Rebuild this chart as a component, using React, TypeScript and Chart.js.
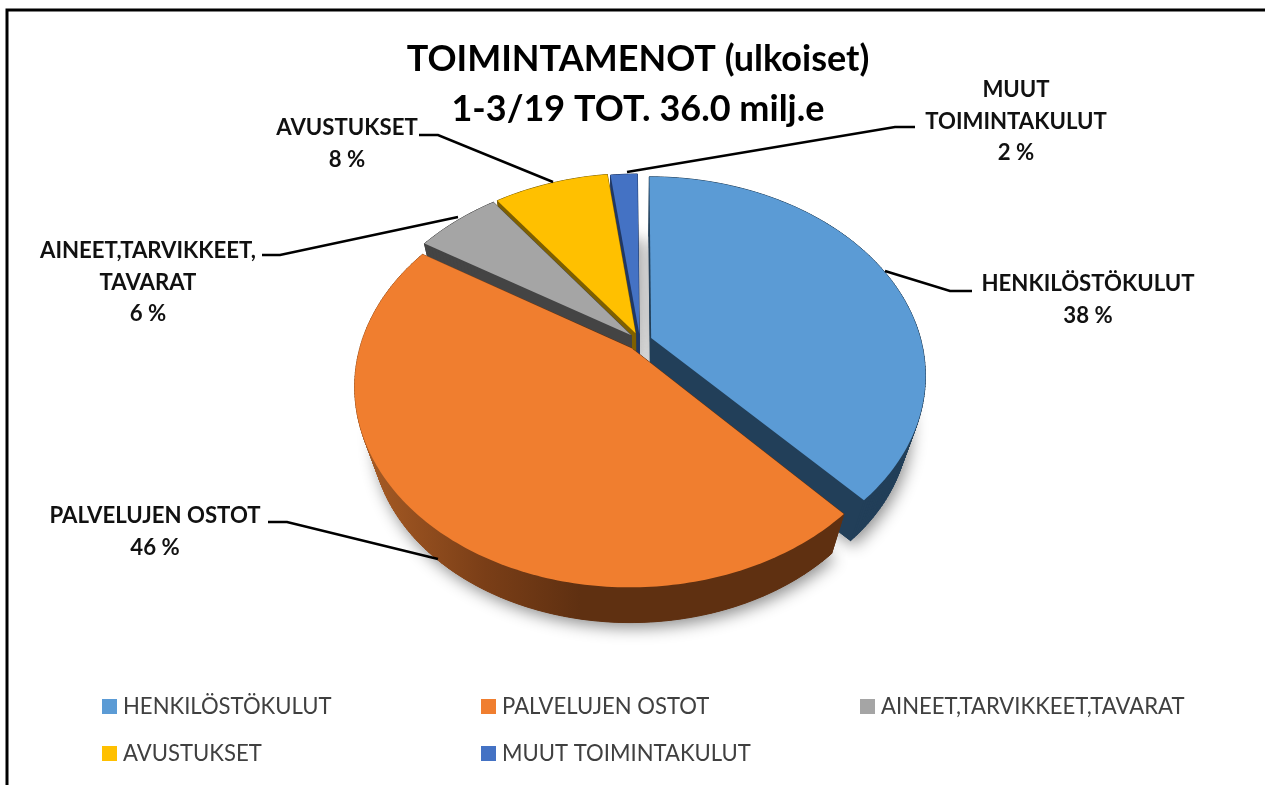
import React, { useEffect, useRef } from "react";
import { Chart, registerables } from "chart.js";

Chart.register(...registerables);

const categories = ["HENKILÖSTÖKULUT", "PALVELUJEN OSTOT", "AINEET,TARVIKKEET,TAVARAT", "AVUSTUKSET", "MUUT TOIMINTAKULUT"];
const shares = [38.2, 45.8, 6, 8.1, 1.9];
const sliceColors = ["#5B9BD5", "#F07E2F", "#A5A5A5", "#FFC000", "#4472C4"];
const wallColors = ["#223F59", "#5F3011", "#444444", "#7F6000", "#203864"];
const explode = [12, 13, 12, 12, 10];
const titleLines = ["TOIMINTAMENOT (ulkoiset)", "1-3/19 TOT. 36.0 milj.e"];
const calloutLines = [["HENKILÖSTÖKULUT"], ["PALVELUJEN OSTOT"], ["AINEET,TARVIKKEET,", "TAVARAT"], ["AVUSTUKSET"], ["MUUT", "TOIMINTAKULUT"]];
const calloutPos = [[1088, 284], [155, 516], [148, 251], [347, 128], [1016, 90]];
const calloutLeaders = [
  [[972, 291], [950, 291], [885, 271]],
  [[268, 522], [287, 522], [438, 559]],
  [[262, 255], [280, 255], [458, 217]],
  [[419, 135], [438, 135], [553, 182]],
  [[915, 127], [895, 127], [627, 172]],
];
const legendSlots = [[102, 699], [481, 699], [860, 699], [102, 746], [481, 746]];
const paintOrder = [4, 3, 2, 0, 1];

const FONT = "Lato, 'Open Sans', sans-serif";
const CX = 640, CY = 341, PERSP = 0.185, TILT = 0.711, FLOOR = 0.94, DEPTH = 50;

const pie3d = {
  id: "pie3d",
  beforeDraw(chart: any) {
    const { ctx } = chart;
    ctx.save();
    ctx.strokeStyle = "#000";
    ctx.lineWidth = 3;
    ctx.beginPath();
    ctx.moveTo(7, 785);
    ctx.lineTo(7, 10);
    ctx.lineTo(1265, 10);
    ctx.stroke();
    ctx.restore();
  },
  beforeDatasetsDraw(chart: any) {
    const { ctx } = chart;
    const arcs = chart.getDatasetMeta(0).data;
    const outline = (arc: any, i: number) => {
      const R = arc.outerRadius;
      const off = arc.options.offset ?? explode[i];
      const mid = (arc.startAngle + arc.endAngle) / 2;
      const ox = Math.cos(mid) * off, oy = Math.sin(mid) * off;
      const proj = (px: number, py: number) => {
        const s = 1 / (1 - (PERSP * py) / R);
        return [CX + px * s, CY + py * TILT * s];
      };
      const pts = [proj(ox, oy)];
      const n = Math.max(8, Math.ceil((arc.endAngle - arc.startAngle) * 60));
      for (let k = 0; k <= n; k++) {
        const a = arc.startAngle + ((arc.endAngle - arc.startAngle) * k) / n;
        pts.push(proj(ox + Math.cos(a) * R, oy + Math.sin(a) * R));
      }
      return pts;
    };
    const toFloor = (p: number[]) => [CX + (p[0] - CX) * FLOOR, CY + (p[1] - CY) * FLOOR + DEPTH];
    const poly = (pts: number[][]) => {
      ctx.beginPath();
      pts.forEach((p, j) => (j ? ctx.lineTo(p[0], p[1]) : ctx.moveTo(p[0], p[1])));
      ctx.closePath();
    };
    ctx.save();
    ctx.shadowColor = "rgba(0,0,0,0.45)";
    ctx.shadowBlur = 16;
    ctx.shadowOffsetX = 3;
    ctx.shadowOffsetY = 5;
    ctx.fillStyle = "#CFCFCF";
    arcs.forEach((arc: any, i: number) => {
      poly(outline(arc, i).map(toFloor));
      ctx.fill();
    });
    ctx.shadowColor = "transparent";
    ctx.shadowBlur = 0;
    ctx.shadowOffsetX = 0;
    ctx.shadowOffsetY = 0;
    ctx.lineJoin = "round";
    const orangeWall = ctx.createLinearGradient(370, 0, 580, 0);
    orangeWall.addColorStop(0, "#A55A24");
    orangeWall.addColorStop(0.55, "#7A3E17");
    orangeWall.addColorStop(1, wallColors[1]);
    paintOrder.forEach((i) => {
      const arc = arcs[i];
      const top = outline(arc, i);
      const low = top.map(toFloor);
      const wall = i === 1 ? orangeWall : wallColors[i];
      ctx.fillStyle = wall;
      ctx.strokeStyle = wall;
      ctx.lineWidth = 1;
      poly(low);
      ctx.fill();
      for (let k = 0; k < top.length; k++) {
        const m = (k + 1) % top.length;
        poly([top[k], top[m], low[m], low[k]]);
        ctx.fill();
        ctx.stroke();
      }
      ctx.fillStyle = arc.options.backgroundColor;
      poly(top);
      ctx.fill();
    });
    ctx.restore();
    return false;
  },
  afterDraw(chart: any) {
    const { ctx } = chart;
    ctx.save();
    ctx.strokeStyle = "#000";
    ctx.lineWidth = 2.5;
    calloutLeaders.forEach((pts) => {
      ctx.beginPath();
      pts.forEach((p, j) => (j ? ctx.lineTo(p[0], p[1]) : ctx.moveTo(p[0], p[1])));
      ctx.stroke();
    });
    ctx.fillStyle = "#111";
    ctx.textAlign = "center";
    ctx.textBaseline = "middle";
    ctx.font = `bold 22.2px ${FONT}`;
    calloutLines.forEach((lines, i) => {
      const all = [...lines, `${Math.round(shares[i])} %`];
      all.forEach((t, j) => ctx.fillText(t, calloutPos[i][0], calloutPos[i][1] + j * 31.5));
    });
    ctx.textAlign = "left";
    ctx.font = `22.1px ${FONT}`;
    categories.forEach((c, i) => {
      const [x, y] = legendSlots[i];
      ctx.fillStyle = sliceColors[i];
      ctx.fillRect(x, y, 15, 15);
      ctx.fillStyle = "#404040";
      ctx.fillText(c, x + 21, y + 7.5);
    });
    ctx.restore();
  },
};

export default function App() {
  const ref = useRef<HTMLCanvasElement | null>(null);
  useEffect(() => {
    const chart = new Chart(ref.current as HTMLCanvasElement, {
      type: "pie",
      data: {
        labels: categories,
        datasets: [{ data: shares, backgroundColor: sliceColors, offset: explode, borderWidth: 0, radius: 270 } as any],
      },
      options: {
        responsive: false,
        animation: false,
        circumference: 359.5,
        layout: { padding: { left: 11, top: 34 } },
        events: [],
        plugins: {
          legend: { display: false },
          tooltip: { enabled: false },
          title: {
            display: true,
            text: titleLines,
            color: "#000",
            font: { family: FONT, weight: "bold", size: 36, lineHeight: 1.39 },
            padding: 0,
          },
        },
      } as any,
      plugins: [pie3d],
    });
    return () => chart.destroy();
  }, []);
  return (
    <div style={{ position: "absolute", left: 0, top: 0, width: 1265, height: 785, background: "#fff" }}>
      <canvas ref={ref} width={1265} height={785} style={{ display: "block" }} />
    </div>
  );
}
